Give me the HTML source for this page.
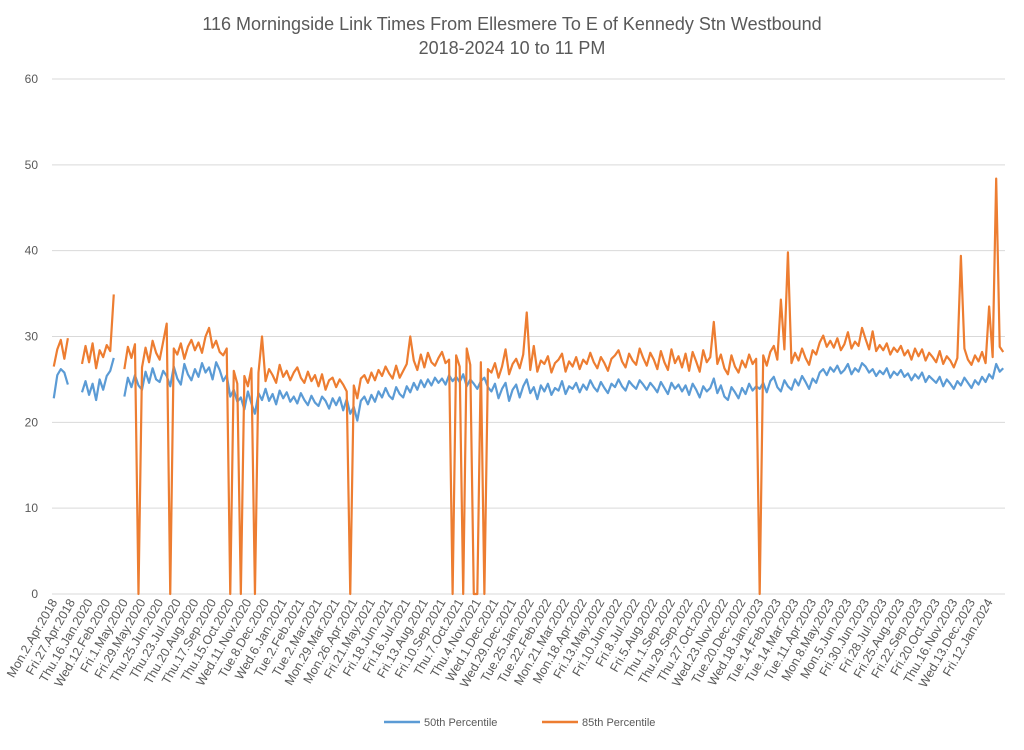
<!DOCTYPE html>
<html><head><meta charset="utf-8"><style>
body{margin:0;background:#fff;font-family:"Liberation Sans",sans-serif}
svg text{font-family:"Liberation Sans",sans-serif;fill:#595959}
</style></head><body>
<svg id="chart" width="1024" height="745" viewBox="0 0 1024 745">
<text x="512" y="30" text-anchor="middle" font-size="18">116 Morningside Link Times From Ellesmere To E of Kennedy Stn Westbound</text>
<text x="512" y="54" text-anchor="middle" font-size="18">2018-2024 10 to 11 PM</text>
<g id="grid"></g><g id="xlabels"></g><g id="series"></g>
<g>
<line x1="384" y1="722" x2="420" y2="722" stroke="#5B9BD5" stroke-width="2.5"/>
<text x="424" y="726" font-size="11">50th Percentile</text>
<line x1="542" y1="722" x2="578" y2="722" stroke="#ED7D31" stroke-width="2.5"/>
<text x="582" y="726" font-size="11">85th Percentile</text>
</g>
</svg>
<script>
const yTicks=[0,10,20,30,40,50,60];
const xTickLabels=["Mon.2.Apr.2018","Fri.27.Apr.2018","Thu.16.Jan.2020","Wed.12.Feb.2020","Fri.1.May.2020","Fri.29.May.2020","Thu.25.Jun.2020","Thu.23.Jul.2020","Thu.20.Aug.2020","Thu.17.Sep.2020","Thu.15.Oct.2020","Wed.11.Nov.2020","Tue.8.Dec.2020","Wed.6.Jan.2021","Tue.2.Feb.2021","Tue.2.Mar.2021","Mon.29.Mar.2021","Mon.26.Apr.2021","Fri.21.May.2021","Fri.18.Jun.2021","Fri.16.Jul.2021","Fri.13.Aug.2021","Fri.10.Sep.2021","Thu.7.Oct.2021","Thu.4.Nov.2021","Wed.1.Dec.2021","Wed.29.Dec.2021","Tue.25.Jan.2022","Tue.22.Feb.2022","Mon.21.Mar.2022","Mon.18.Apr.2022","Fri.13.May.2022","Fri.10.Jun.2022","Fri.8.Jul.2022","Fri.5.Aug.2022","Thu.1.Sep.2022","Thu.29.Sep.2022","Thu.27.Oct.2022","Wed.23.Nov.2022","Tue.20.Dec.2022","Wed.18.Jan.2023","Tue.14.Feb.2023","Tue.14.Mar.2023","Tue.11.Apr.2023","Mon.8.May.2023","Mon.5.Jun.2023","Fri.30.Jun.2023","Fri.28.Jul.2023","Fri.25.Aug.2023","Fri.22.Sep.2023","Fri.20.Oct.2023","Thu.16.Nov.2023","Wed.13.Dec.2023","Fri.12.Jan.2024"];
const p50=[22.8,25.5,26.2,25.8,24.4,null,null,null,23.5,24.8,
23.2,24.5,22.6,25.0,23.8,25.4,26.0,27.5,null,null,
23.0,25.2,24.1,25.5,24.3,23.8,25.9,24.6,26.3,25.0,
24.7,26.0,25.4,24.2,26.5,25.1,24.4,26.8,25.6,24.9,
26.2,25.3,26.9,25.8,26.4,25.0,27.0,26.1,24.8,25.5,
23.0,23.8,22.4,22.9,21.5,23.6,22.2,21.0,23.4,22.6,
23.9,22.5,23.3,22.1,23.7,22.8,23.5,22.4,23.0,22.2,
23.4,22.6,22.0,23.1,22.3,21.9,23.0,22.5,21.6,22.8,
22.0,22.9,21.4,22.7,21.0,21.8,20.2,22.5,23.0,22.1,
23.2,22.4,23.6,22.9,24.0,23.1,22.7,24.1,23.3,22.9,
24.2,23.5,24.6,23.8,24.9,24.1,25.0,24.3,25.2,24.6,
25.1,24.4,25.5,24.8,25.3,24.7,25.6,24.2,25.0,24.5,
23.9,24.8,25.2,24.1,23.6,24.5,22.8,23.9,24.6,22.5,
23.8,24.4,22.9,24.2,25.0,23.4,24.1,22.7,24.3,23.6,
24.5,23.2,24.0,23.7,24.8,23.3,24.2,23.9,24.6,23.5,
24.4,23.8,24.9,24.1,23.6,24.7,24.0,23.4,24.5,24.1,
25.0,24.2,23.7,24.8,24.3,23.9,24.9,24.4,23.8,24.6,
24.1,23.5,24.7,24.0,23.3,24.6,23.9,24.4,23.6,24.3,
23.2,24.5,23.8,22.9,24.2,23.6,24.0,25.1,23.4,24.3,
23.0,22.6,24.1,23.5,22.8,24.0,23.3,24.5,23.7,24.2,
23.9,24.6,23.5,24.8,25.3,24.1,23.6,24.9,24.2,23.8,
25.0,24.3,25.4,24.7,23.9,25.1,24.6,25.8,26.2,25.5,
26.4,25.9,26.6,25.7,26.1,26.8,25.6,26.3,25.9,26.9,
26.5,25.8,26.2,25.4,26.0,25.6,26.3,25.2,25.9,25.5,
26.1,25.3,25.7,24.9,25.6,25.1,25.8,24.7,25.4,25.0,
24.6,25.3,24.2,25.0,24.5,23.9,24.8,24.3,25.2,24.6,
24.0,24.9,24.4,25.3,24.7,25.6,25.1,26.8,25.9,26.3];
const p85=[26.5,28.5,29.6,27.4,29.8,null,null,null,26.8,28.9,
27.0,29.2,26.3,28.4,27.6,29.0,28.3,34.9,null,null,
26.2,28.8,27.5,29.1,0,26.4,28.7,27.0,29.5,28.1,
27.3,29.4,31.5,0,28.6,27.9,29.2,27.4,28.8,29.6,
28.4,29.3,28.1,30.0,31.0,28.7,29.5,28.2,27.8,28.6,
0,26.0,24.5,0,25.4,24.2,26.3,0,25.8,30.0,
24.8,26.2,25.5,24.6,26.7,25.3,26.0,24.9,25.8,26.4,
25.2,24.6,25.9,24.8,25.5,24.2,25.6,23.8,24.9,25.2,
24.1,25.0,24.4,23.6,0,24.3,22.8,25.1,25.5,24.6,
25.8,24.9,26.1,25.4,26.5,25.7,25.1,26.6,25.2,26.0,
26.8,30.0,27.2,26.1,27.9,26.4,28.1,27.0,26.6,27.5,
28.2,26.9,27.3,0,27.8,26.5,0,28.6,26.7,0,
0,27.0,0,26.2,25.8,26.9,25.2,26.5,28.5,25.6,
26.8,27.4,26.3,27.9,32.8,26.1,28.9,25.9,27.2,26.8,
27.7,25.8,26.9,27.3,28.0,25.9,27.1,26.5,27.6,26.2,
27.3,26.8,28.1,27.0,26.3,27.6,26.9,26.0,27.4,27.8,
28.4,27.1,26.4,28.0,27.2,26.7,28.6,27.5,26.6,28.1,
27.3,26.2,28.3,27.0,26.1,28.5,26.9,27.7,26.4,28.0,
26.0,28.2,27.1,25.9,28.4,27.0,27.6,31.7,26.8,27.9,
26.3,25.6,27.8,26.5,25.8,27.2,26.4,27.9,26.8,27.4,
0,27.8,26.6,28.2,28.9,27.3,34.3,28.5,39.8,26.9,
28.1,27.2,28.6,27.5,26.7,28.4,27.9,29.3,30.1,28.8,
29.5,28.7,29.8,28.4,29.1,30.5,28.6,29.4,28.9,31.0,
29.7,28.5,30.6,28.3,29.0,28.4,29.2,27.9,28.7,28.2,
28.9,27.8,28.4,27.3,28.6,27.7,28.5,27.2,28.1,27.6,
27.0,28.3,26.8,27.7,27.2,26.4,27.5,39.4,28.6,27.3,
26.7,27.8,27.1,28.2,26.9,33.5,27.6,48.4,28.8,28.2];
const labelEvery=5;
const NS="http://www.w3.org/2000/svg";
const X0=52,X1=1005,Y0=594,Y1=79,YMAX=60;
const N=p50.length, step=(X1-X0)/N;
function xs(i){return X0+(i+0.5)*step;}
function ys(v){return Y0-(v/YMAX)*(Y0-Y1);}
const grid=document.getElementById('grid');
yTicks.forEach(t=>{
 const l=document.createElementNS(NS,'line');
 l.setAttribute('x1',X0);l.setAttribute('x2',X1);l.setAttribute('y1',ys(t));l.setAttribute('y2',ys(t));
 l.setAttribute('stroke','#d9d9d9');l.setAttribute('stroke-width','1');
 
 
 grid.appendChild(l);
 const tx=document.createElementNS(NS,'text');
 tx.setAttribute('x',38);tx.setAttribute('y',ys(t)+4);tx.setAttribute('text-anchor','end');tx.setAttribute('font-size','12');
 tx.textContent=t;
 
 
 grid.appendChild(tx);
});
const xl=document.getElementById('xlabels');
xTickLabels.forEach((s,k)=>{
 const x=xs(k*labelEvery)+4,y=602;
 const tx=document.createElementNS(NS,'text');
 tx.setAttribute('x',x);tx.setAttribute('y',y);tx.setAttribute('text-anchor','end');tx.setAttribute('font-size','12.5');
 tx.setAttribute('transform','rotate(-60 '+x+' '+y+')');
 tx.textContent=s;
 
 
 xl.appendChild(tx);
});
function draw(arr,color,name){
 let d='',pen=false;
 arr.forEach((v,i)=>{
  if(v===null){pen=false;return;}
  d+=(pen?'L':'M')+xs(i).toFixed(2)+' '+ys(v).toFixed(2);pen=true;
 });
 const p=document.createElementNS(NS,'path');
 p.setAttribute('d',d);p.setAttribute('fill','none');p.setAttribute('stroke',color);
 p.setAttribute('stroke-width','2.2');p.setAttribute('stroke-linejoin','round');
 
 
 document.getElementById('series').appendChild(p);
}
draw(p50,'#5B9BD5','series-50th-percentile');
draw(p85,'#ED7D31','series-85th-percentile');
</script>
</body></html>
